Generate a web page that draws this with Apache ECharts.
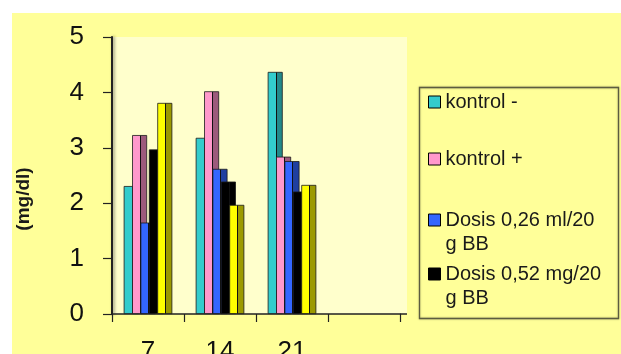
<!DOCTYPE html>
<html>
<head>
<meta charset="utf-8">
<script src="https://cdn.jsdelivr.net/npm/echarts@6/dist/echarts.min.js"></script>
<style>
  html, body { margin: 0; padding: 0; background: #fff; }
  #chart { width: 621px; height: 354px; }
</style>
</head>
<body>
<div id="chart"></div>
<script>
// Day of measurement (last slot left empty)
const categories = ['7', '14', '21', ''];

// Values in mg/dl per group
const kontrolMinus = [2.31, 3.18, 4.37];
const kontrolPlus = [3.23, 4.02, 2.84];
const dosis026 = [1.65, 2.62, 2.76];
const dosis052 = [2.97, 2.39, 2.21];
const dosis3 = [3.81, 1.97, 2.33];

const yTicks = [0, 1, 2, 3, 4, 5];

const seriesNames = ['kontrol -', 'kontrol +', 'Dosis 0,26 ml/20 g BB', 'Dosis 0,52 mg/20 g BB', 'Dosis 3'];
const seriesValues = [kontrolMinus, kontrolPlus, dosis026, dosis052, dosis3];
// front face colour / side face colour for the pseudo-3D columns
const fronts = ['#33CCCC', '#FF99CC', '#3366FF', '#000000', '#FFFF00'];
const sides = ['#23898A', '#9C5A7C', '#1F3FA0', '#000000', '#9C9A00'];

function faceGradient(front, side) {
  return new echarts.graphic.LinearGradient(0, 0, 1, 0, [
    { offset: 0, color: front },
    { offset: 0.53, color: front },
    { offset: 0.53, color: '#111' },
    { offset: 0.59, color: '#111' },
    { offset: 0.59, color: side },
    { offset: 1, color: side }
  ]);
}

const series = seriesNames.map((name, i) => ({
  name: name,
  type: 'bar',
  data: seriesValues[i],
  barWidth: 15,
  barGap: '-44%',
  itemStyle: {
    color: faceGradient(fronts[i], sides[i]),
    borderColor: '#1a1a1a',
    borderWidth: 0.8
  },
  emphasis: { disabled: true },
  animation: false
}));

const legendFont = { fontFamily: 'Liberation Sans, Arial, sans-serif', fontSize: 20, color: '#1a1a1a', lineHeight: 24 };
function legendEntry(i, top, twoLines) {
  return {
    show: true,
    orient: 'vertical',
    left: 428,
    top: top,
    padding: 0,
    itemWidth: 12,
    itemHeight: 12,
    selectedMode: false,
    icon: 'rect',
    textStyle: legendFont,
    formatter: twoLines ? function (n) {
      const cut = n.lastIndexOf(' g BB');
      return '\n' + n.slice(0, cut) + '\ng BB';
    } : undefined,
    data: [{ name: seriesNames[i], itemStyle: { color: fronts[i], borderColor: '#000', borderWidth: 1 } }]
  };
}

const chart = echarts.init(document.getElementById('chart'), null, { renderer: 'canvas' });
chart.setOption({
  backgroundColor: '#ffffff',
  animation: false,
  graphic: [
    { type: 'rect', z: -30, shape: { x: 12, y: 13, width: 609, height: 341 }, style: { fill: '#FFFF99' } },
    { type: 'rect', z: -20, shape: { x: 113, y: 37, width: 294, height: 277 }, style: { fill: '#FFFFCC' } },
    { type: 'line', z: 5, shape: { x1: 400, y1: 314, x2: 407, y2: 314 }, style: { stroke: '#222', lineWidth: 1.5 } },
    { type: 'rect', z: 5, shape: { x: 419.5, y: 87.5, width: 199, height: 231 },
      style: { fill: 'none', stroke: '#5c5c40', lineWidth: 1.3, shadowColor: 'rgba(0,0,0,0.35)', shadowBlur: 2 } },
    { type: 'text', z: 5, x: 24, y: 199, rotation: Math.PI / 2,
      style: { text: '(mg/dl)', fontFamily: 'Liberation Sans, Arial, sans-serif', fontWeight: 'bold', fontSize: 19,
               fill: '#1a1a1a', align: 'center', verticalAlign: 'middle' } }
  ],
  legend: [
    legendEntry(0, 90, false),
    legendEntry(1, 147, false),
    legendEntry(2, 184, true),
    legendEntry(3, 238, true)
  ],
  grid: { left: 112, top: 37, width: 288, height: 277, containLabel: false, outerBoundsMode: 'none' },
  xAxis: {
    type: 'category',
    data: categories,
    boundaryGap: true,
    axisLine: { lineStyle: { color: '#222', width: 1.5 } },
    axisTick: { show: true, length: 8, inside: false, lineStyle: { color: '#222', width: 1.2 } },
    axisLabel: { margin: 25, fontSize: 26, color: '#111', fontFamily: 'Liberation Sans, Arial, sans-serif', interval: 0 },
    splitLine: { show: false }
  },
  yAxis: {
    type: 'value',
    min: yTicks[0],
    max: yTicks[yTicks.length - 1],
    interval: 1,
    axisLine: { show: true, lineStyle: { color: '#222', width: 2, shadowColor: 'rgba(0,0,0,0.45)', shadowBlur: 3, shadowOffsetX: 1.5 } },
    axisTick: { show: true, length: 9, inside: false, lineStyle: { color: '#222', width: 1.2 } },
    axisLabel: { margin: 28, fontSize: 26, color: '#111', fontFamily: 'Liberation Sans, Arial, sans-serif' },
    splitLine: { show: false }
  },
  series: series
});
</script>
</body>
</html>
